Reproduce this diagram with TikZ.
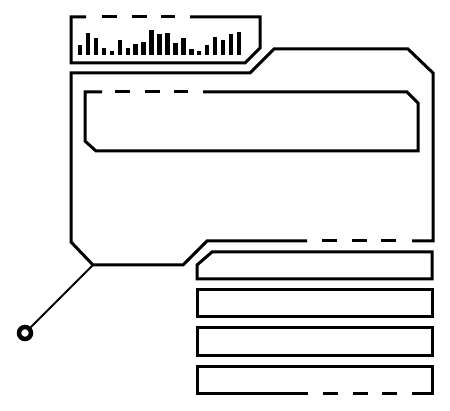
\documentclass[tikz,border=0pt]{standalone}
\usepackage{tikz}

\tikzset{
  frame/.style={line width=3pt,line join=miter},
  brokenline/.style={frame,dash pattern=on 15pt off 14.5pt},
  bar/.style={fill=black},
}

\begin{document}
\begin{tikzpicture}[x=1pt,y=-1pt]
  \useasboundingbox (0,0) rectangle (450,411);

  % small panel with the bar chart
  \draw[frame] (190,17) -- (260,17) -- (260,48) -- (245,63) -- (71,63) -- (71,17) -- (86,17);
  \draw[brokenline] (102,17) -- (175,17);
  \foreach \h [count=\i] in {10,22,17,7,4,15,7,11,13,25,21,22,12,17,6,4,10,18,15,21,23}
    \fill[bar] ({80+7.95*(\i-1)-2.2},55) rectangle ++(4.4,-\h);

  % main panel
  \draw[frame] (307,241) -- (207,241) -- (183,265) -- (93,265) -- (71,242) -- (71,73)
    -- (250,73) -- (274,49) -- (408,49) -- (433,73) -- (433,241) -- (412,241);
  \draw[brokenline] (322,241) -- (397,241);

  % inner panel
  \draw[frame] (203,92) -- (407,92) -- (418,103) -- (418,151) -- (96,151) -- (85,141)
    -- (85,92) -- (102,92);
  \draw[brokenline] (115,92) -- (188,92);

  % list items
  \draw[frame] (212,252) -- (432,252) -- (432,279) -- (197,279) -- (197,265) -- cycle;
  \draw[frame] (197,290) rectangle (432,317);
  \draw[frame] (197,328) rectangle (432,356);
  \draw[frame] (308,394) -- (197,394) -- (197,367) -- (432,367) -- (432,394) -- (412,394);
  \draw[brokenline] (323,394) -- (398,394);

  % pin
  \coordinate (hinge) at (93,265);
  \node[draw,circle,line width=4.5pt,minimum size=12pt,inner sep=0pt] (knob) at (25,333) {};
  \draw[line width=1.8pt] (hinge) -- (knob);
\end{tikzpicture}
\end{document}
